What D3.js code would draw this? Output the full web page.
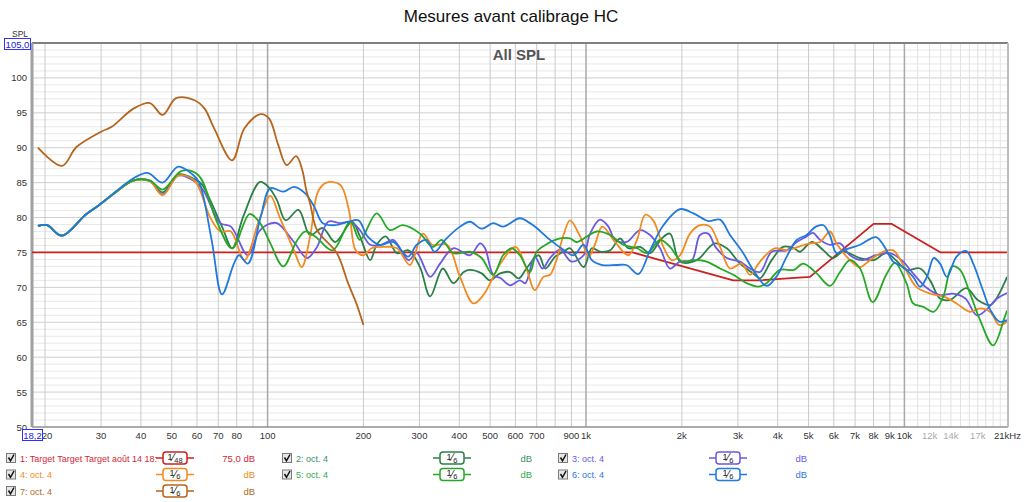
<!DOCTYPE html>
<html>
<head>
<meta charset="utf-8">
<script src="https://cdn.jsdelivr.net/npm/d3@7.9.0/dist/d3.min.js"></script>
<style>
  html, body { margin: 0; padding: 0; background: #fff; }
  svg { display: block; font-family: "Liberation Sans", Arial, sans-serif; }
</style>
</head>
<body>
<svg id="chart" width="1024" height="502"></svg>
<script>
// ---- data: [Hz, dB] ----
const target = [[18.2,75],[1400,75],[2900,71],[3500,71],[5050,71.5],[8000,79.1],[9100,79.1],[13000,75],[21000,75]];

const oct2 = [[19,78.8],[20.3,78.9],[22.6,77.4],[26.8,80.4],[29.6,81.8],[33.5,83.7],[37.8,85.3],[42.7,85.3],[46.8,83.6],[52.4,86.2],[58.9,85.5],[62,84.8],[71.9,78.7],[77.4,75.6],[83.8,80.1],[94.7,85.1],[101,84.3],[107,82.5],[114,79.6],[125,81.1],[136,77.5],[149,78.5],[163,76.5],[184,79.4],[195,77.3],[210,73.9],[220,76.1],[235,77.3],[255,74.9],[277,75.3],[301,72.9],[324,68.7],[355,72.7],[383,70.6],[413,72.2],[432,72.5],[470,72.0],[499,71.0],[537,72.0],[577,72.2],[615,71.3],[650,72.7],[710,74.6],[745,72.7],[800,74.4],[850,75.1],[891,75.6],[983,72.9],[1043,75.6],[1107,75.1],[1190,75.3],[1279,77.0],[1358,75.6],[1478,75.8],[1589,74.9],[1728,77.0],[1836,77.7],[1974,73.7],[2228,73.9],[2535,76.3],[2768,75.6],[3046,73.4],[3350,72.0],[3520,71.3],[3830,73.9],[4160,75.8],[4500,75.6],[4700,75.1],[5120,76.5],[5570,75.3],[5960,74.2],[6420,75.1],[7256,74.2],[8000,73.9],[8770,74.9],[9400,73.9],[10150,72.5],[11200,72.7],[12040,71.0],[12940,68.4],[13900,68.2],[15650,69.9],[17000,68.2],[18650,67.5],[20600,70.6],[21000,71.5]];

const oct3 = [[19,78.8],[20.3,78.9],[22.6,77.4],[26.8,80.4],[29.6,81.8],[33.5,83.7],[37.8,85.3],[42.7,85.2],[46.8,83.3],[52.4,86.0],[58.9,85.2],[63,83.8],[71,79.2],[76.7,78.7],[86.7,74.6],[94,78.0],[100,79.0],[107,79.2],[121,76.5],[133,74.2],[143,75.8],[155,79.4],[169,79.2],[182,79.4],[195,78.2],[210,76.1],[228,76.1],[248,76.8],[277,73.9],[294,74.9],[324,71.5],[348,73.4],[383,75.6],[432,74.6],[465,76.3],[482,75.6],[511,71.8],[540,71.3],[577,70.3],[620,71.0],[645,70.6],[690,74.4],[730,72.7],[771,74.2],[829,75.4],[901,73.7],[983,74.6],[1030,77.7],[1107,79.7],[1176,78.7],[1234,76.8],[1340,76.5],[1478,78.2],[1589,77.5],[1708,75.6],[1836,72.7],[1974,73.7],[2150,73.9],[2281,77.5],[2420,77.7],[2550,75.8],[2768,74.2],[3046,73.7],[3274,72.7],[3520,72.2],[3830,75.1],[4270,75.3],[4590,76.5],[4930,77.3],[5160,77.8],[5433,76.8],[5841,76.1],[6279,76.3],[6750,74.6],[7340,73.9],[8140,74.6],[9015,74.9],[9800,73.9],[10650,72.0],[11770,69.9],[12940,68.9],[14240,69.1],[15540,68.4],[16880,66.0],[18000,66.7],[19550,68.4],[21000,69.2]];

const oct4 = [[19,78.8],[20.3,78.9],[22.6,77.4],[26.8,80.4],[29.6,81.8],[33.5,83.7],[37.8,85.3],[42.7,85.2],[46.8,83.2],[52.4,86.0],[58.9,85.3],[65.9,80.1],[71.1,78.0],[76.7,78.0],[84.6,73.9],[94,79.6],[102,83.1],[109,80.1],[121,75.3],[128,72.9],[136,77.3],[144,83.7],[153,85.0],[169,84.7],[180,81.1],[189,75.3],[200,74.6],[212,75.6],[235,75.8],[255,75.6],[280,73.2],[307,77.7],[329,76.1],[366,76.1],[402,71.5],[443,67.7],[476,68.9],[540,73.5],[600,75.8],[650,72.7],[690,69.6],[735,71.5],[771,71.8],[805,73.7],[850,77.5],[891,79.6],[958,77.3],[1020,74.4],[1070,76.3],[1125,78.7],[1234,76.5],[1358,74.6],[1446,76.8],[1535,80.4],[1625,79.6],[1750,75.8],[1860,73.9],[1974,74.6],[2122,77.7],[2281,78.9],[2452,78.7],[2636,75.8],[2834,72.7],[3082,73.4],[3274,71.8],[3520,73.7],[3910,75.6],[4270,75.3],[4640,75.8],[5054,76.3],[5433,76.5],[5841,78.0],[6120,76.3],[6750,73.9],[7256,72.9],[7801,73.9],[8570,75.1],[9220,75.3],[9920,73.2],[10880,70.1],[12040,69.1],[13250,68.7],[14580,67.7],[16080,66.5],[17290,67.0],[18583,66.5],[19860,64.6],[21000,65.1]];

const oct5 = [[19,78.8],[20.3,78.9],[22.6,77.4],[26.8,80.4],[29.6,81.8],[33.5,83.7],[37.8,85.3],[42.7,85.3],[46.8,84.0],[53.7,86.7],[60.5,86.1],[69.3,79.4],[77.4,75.6],[87.8,80.5],[94.7,79.2],[102,76.3],[112,73.0],[123,76.5],[131,78.0],[141,77.3],[160,75.3],[182,79.4],[195,76.8],[220,80.6],[242,78.2],[266,78.9],[301,77.7],[330,75.8],[352,76.8],[383,74.9],[432,75.1],[470,74.2],[511,71.8],[549,74.6],[584,75.6],[620,74.6],[667,72.2],[700,75.1],[760,76.3],[829,77.0],[891,77.0],[935,76.5],[1008,77.3],[1080,78.0],[1190,77.5],[1308,76.1],[1446,75.6],[1556,74.9],[1708,76.8],[1836,75.8],[2000,73.7],[2160,73.9],[2390,73.7],[2636,72.7],[2900,71.8],[3195,70.6],[3478,70.1],[3690,70.6],[4068,72.5],[4500,72.5],[4810,73.4],[5300,72.0],[5841,70.2],[6279,72.2],[6750,73.9],[7256,72.7],[7950,67.9],[8770,71.8],[9340,73.5],[10150,70.6],[10650,67.7],[11470,67.2],[12360,66.5],[13250,68.7],[14120,73.0],[14958,72.5],[16080,69.1],[17290,65.3],[19000,61.7],[20600,65.6],[21000,66.7]];

const oct6 = [[19,78.8],[20.3,78.9],[22.6,77.4],[26.8,80.4],[29.6,81.8],[33.5,83.8],[37.8,85.6],[42,86.4],[46.8,85.0],[52.4,87.3],[58,86.2],[61,85.0],[66.7,76.8],[71.9,69.0],[78.4,73.4],[81.3,74.6],[86.7,73.4],[95,80.0],[102,84.2],[112,83.7],[121,84.4],[131,83.5],[140,81.6],[149,79.2],[163,78.9],[180,79.4],[193,79.6],[206,77.3],[225,76.1],[248,76.5],[276,74.4],[294,76.1],[315,76.8],[335,75.1],[361,76.8],[402,78.7],[432,79.4],[470,78.4],[511,79.2],[549,78.7],[620,79.9],[667,79.2],[700,78.5],[771,76.8],[850,75.4],[914,74.6],[983,76.1],[1043,73.9],[1125,73.2],[1247,73.2],[1340,73.2],[1460,71.9],[1589,75.3],[1750,78.9],[1974,81.2],[2175,80.6],[2420,79.5],[2636,79.7],[2834,77.5],[3118,74.9],[3350,72.5],[3690,70.2],[3970,71.6],[4270,74.4],[4590,76.8],[4930,77.5],[5270,78.7],[5570,78.9],[5830,77.5],[6120,74.9],[6420,75.3],[7256,76.1],[8140,77.2],[8660,75.8],[9220,73.7],[9920,72.9],[10650,71.5],[11200,70.1],[11770,71.5],[12360,74.2],[12940,73.4],[13600,71.5],[14580,74.4],[15650,75.2],[16450,73.4],[17700,69.4],[18650,66.7],[19860,65.1],[21000,65.3]];

const oct7 = [[19,90.0],[22.6,87.4],[25.1,90.1],[30,92.3],[32.4,93.0],[37.9,95.6],[42.7,96.4],[46.8,94.7],[51.6,97.1],[58.9,96.8],[63.4,95.6],[67.9,92.8],[77.4,88.2],[84.6,92.8],[95,94.8],[101,94.2],[108,90.4],[114.7,87.5],[123,88.8],[128.5,86.8],[132.3,83.9],[136,82.0],[143,78.2],[165,74.9],[179,70.6],[190,67.7],[200,64.6]];

const seriesNames = ['1: Target Target Target août 14 18:', '2: oct. 4', '3: oct. 4', '4: oct. 4', '5: oct. 4', '6: oct. 4', '7: oct. 4'];
const seriesColors = ['#cc2020', '#2a8048', '#6a5ae0', '#f28a20', '#26a826', '#2079dc', '#b5651d'];
const legendTextColors = ['#d0283a', '#3b8f6a', '#6a5ae0', '#f28a20', '#2fa84a', '#2a78dc', '#b06a28'];
const smoothing = ['1/48', '1/6', '1/6', '1/6', '1/6', '1/6', '1/6'];
const levels = ['75,0 dB', 'dB', 'dB', 'dB', 'dB', 'dB', 'dB'];
const allSeries = [target, oct2, oct3, oct4, oct5, oct6, oct7];

const yTicks = [50, 55, 60, 65, 70, 75, 80, 85, 90, 95, 100];
const xTickLabels = [[20,'20'],[30,'30'],[40,'40'],[50,'50'],[60,'60'],[70,'70'],[80,'80'],[100,'100'],[200,'200'],[300,'300'],[400,'400'],[500,'500'],[600,'600'],[700,'700'],[900,'900'],[1000,'1k'],[2000,'2k'],[3000,'3k'],[4000,'4k'],[5000,'5k'],[6000,'6k'],[7000,'7k'],[8000,'8k'],[9000,'9k'],[10000,'10k'],[12000,'12k'],[14000,'14k'],[17000,'17k']];

// ---- layout ----
const svg = d3.select('#chart');
const L = 32, R = 1007, T = 43, B = 427;
const x = d3.scaleLog().domain([18.2, 21000]).range([L, R]);
const y = d3.scaleLinear().domain([50, 105]).range([B, T]);

// title
svg.append('text').attr('x', 511).attr('y', 22).attr('text-anchor', 'middle')
  .attr('font-size', 17).attr('fill', '#111').text('Mesures avant calibrage HC');

// grid
const grid = svg.append('g');
d3.range(51, 105).forEach(v => {
  grid.append('line').attr('x1', L).attr('x2', R).attr('y1', y(v)).attr('y2', y(v))
    .attr('stroke', v % 5 === 0 ? '#cfcfcf' : '#e8e8e8').attr('stroke-width', 1);
});
const decadeLines = [];
for (const dec of [10, 100, 1000]) for (let m = 1; m <= 9; m++) decadeLines.push(dec * m);
decadeLines.filter(f => f >= 20).forEach(f => {
  const heavy = f === 100 || f === 1000;
  grid.append('line').attr('x1', x(f)).attr('x2', x(f)).attr('y1', T).attr('y2', B)
    .attr('stroke', heavy ? '#a8a8a8' : '#cbcbcb').attr('stroke-width', heavy ? 1.5 : 1);
});
grid.append('line').attr('x1', x(10000)).attr('x2', x(10000)).attr('y1', T).attr('y2', B)
  .attr('stroke', '#a8a8a8').attr('stroke-width', 1.5);
d3.range(11000, 21000, 1000).forEach(f => {
  grid.append('line').attr('x1', x(f)).attr('x2', x(f)).attr('y1', T).attr('y2', B)
    .attr('stroke', '#e2e2e2').attr('stroke-width', 1);
});

// frame
svg.append('line').attr('x1', L).attr('x2', R + 1).attr('y1', T).attr('y2', T).attr('stroke', '#808080').attr('stroke-width', 2);
svg.append('line').attr('x1', L).attr('x2', R + 1).attr('y1', B).attr('y2', B).attr('stroke', '#909090').attr('stroke-width', 1.5);
svg.append('line').attr('x1', L).attr('x2', L).attr('y1', T).attr('y2', B).attr('stroke', '#a0a0a0').attr('stroke-width', 3);
svg.append('line').attr('x1', R + 1).attr('x2', R + 1).attr('y1', T).attr('y2', B).attr('stroke', '#bdbdbd').attr('stroke-width', 2);

// "All SPL"
svg.append('text').attr('x', 519).attr('y', 60).attr('text-anchor', 'middle')
  .attr('font-size', 15).attr('font-weight', 'bold').attr('fill', '#555').text('All SPL');

// y axis labels
yTicks.forEach(v => {
  svg.append('text').attr('x', 27).attr('y', y(v) + 3.5).attr('text-anchor', 'end')
    .attr('font-size', 9.5).attr('fill', '#333').text(v);
});
svg.append('text').attr('x', 12).attr('y', 37).attr('font-size', 8.5).attr('fill', '#333').text('SPL');
svg.append('rect').attr('x', 4.5).attr('y', 38.5).attr('width', 26).attr('height', 11)
  .attr('fill', '#fff').attr('stroke', '#3030ff');
svg.append('text').attr('x', 17.5).attr('y', 47.5).attr('text-anchor', 'middle')
  .attr('font-size', 9.5).attr('fill', '#2020e0').text('105,0');

// x axis labels
xTickLabels.forEach(([f, lab]) => {
  const light = f > 10000;
  svg.append('text').attr('x', x(f) + (f === 20 ? 2 : 0)).attr('y', 439).attr('text-anchor', 'middle')
    .attr('font-size', 9.5).attr('fill', light ? '#aaa' : '#333').text(lab);
});
svg.append('text').attr('x', 994).attr('y', 439).attr('font-size', 9.5).attr('fill', '#333').text('21kHz');
svg.append('rect').attr('x', 22.5).attr('y', 429.5).attr('width', 20).attr('height', 11)
  .attr('fill', '#fff').attr('stroke', '#3030ff');
svg.append('text').attr('x', 32.5).attr('y', 438.5).attr('text-anchor', 'middle')
  .attr('font-size', 9.5).attr('fill', '#2020e0').text('18,2');

// curves
const plot = svg.append('g');
plot.append('clipPath').attr('id', 'clip').append('rect')
  .attr('x', L).attr('y', T).attr('width', R - L).attr('height', B - T);
allSeries.forEach((data, i) => {
  const line = d3.line()
    .x(d => x(d[0])).y(d => y(d[1]))
    .curve(i === 0 ? d3.curveLinear : d3.curveCatmullRom.alpha(0.5));
  plot.append('path').datum(data).attr('d', line).attr('clip-path', 'url(#clip)')
    .attr('fill', 'none').attr('stroke', seriesColors[i]).attr('stroke-width', 1.8)
    .attr('stroke-linejoin', 'round');
});

// legend
const colX = [6, 282, 558];
const rowY = [458, 474.5, 491];
const boxC = [175, 452, 728];
const dbRight = [255, 532, 807];
seriesNames.forEach((name, i) => {
  const c = i % 3, r = Math.floor(i / 3);
  const g = svg.append('g').attr('transform', `translate(0,${rowY[r]})`);
  // checkbox
  g.append('rect').attr('x', colX[c] + 0.5).attr('y', -4.5).attr('width', 9).attr('height', 9)
    .attr('fill', '#e6e6e6').attr('stroke', '#7a7a7a');
  g.append('path').attr('d', `M${colX[c] + 2.5},${-0.5} L${colX[c] + 4.5},${2.8} L${colX[c] + 8},${-3.5}`)
    .attr('fill', 'none').attr('stroke', '#111').attr('stroke-width', 1.5);
  g.append('text').attr('x', colX[c] + 14).attr('y', 3.5).attr('font-size', 9)
    .attr('fill', legendTextColors[i]).text(name);
  // smoothing box
  g.append('line').attr('x1', boxC[c] - 19).attr('x2', boxC[c] + 19).attr('y1', 0).attr('y2', 0)
    .attr('stroke', seriesColors[i]).attr('stroke-width', 1.5);
  g.append('rect').attr('x', boxC[c] - 12).attr('y', -6).attr('width', 24).attr('height', 12).attr('rx', 3)
    .attr('fill', '#fff').attr('stroke', seriesColors[i]).attr('stroke-width', 1.5);
  const [num, den] = smoothing[i].split('/');
  const t = g.append('text').attr('x', boxC[c]).attr('y', 3).attr('text-anchor', 'middle').attr('fill', '#222');
  t.append('tspan').attr('font-size', 9).attr('dy', -1.5).text(num);
  t.append('tspan').attr('font-size', 11).attr('dy', 1.5).text('⁄');
  t.append('tspan').attr('font-size', 7.5).attr('dy', 1.5).text(den);
  g.append('text').attr('x', dbRight[c]).attr('y', 3.5).attr('text-anchor', 'end').attr('font-size', 9.5)
    .attr('fill', legendTextColors[i]).text(levels[i]);
});
</script>
</body>
</html>
